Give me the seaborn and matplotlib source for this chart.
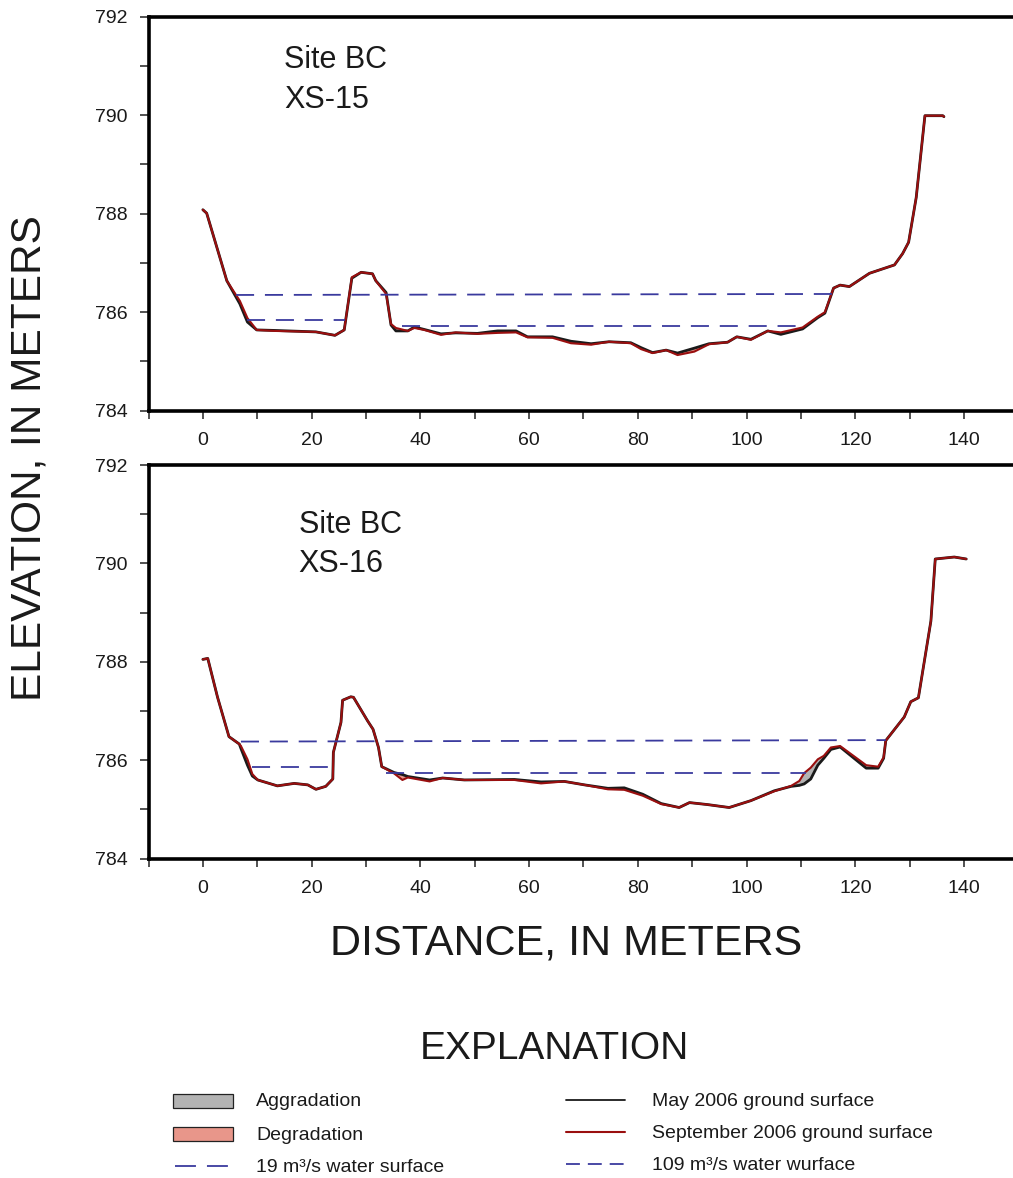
import matplotlib
matplotlib.use("Agg")
import numpy as np
import pandas as pd
import matplotlib.pyplot as plt
from matplotlib.patches import Rectangle
from matplotlib.lines import Line2D
import seaborn as sns

# ---------------- Cross section XS-15 ----------------
dist_15 = [0, 0.7, 4.4, 6.8, 8.2, 9.9, 13.1, 20.8, 24.3, 26.0, 27.4, 29.1, 31.2, 31.8,
           33.7, 34.6, 35.5, 37.7, 38.9, 40.7, 43.8, 46.5, 50.5, 54.2, 57.6, 59.7, 64.3,
           67.7, 71.4, 74.7, 78.7, 80.6, 82.7, 85.2, 87.3, 90.4, 93.1, 96.5, 98.2, 100.8,
           103.9, 106.3, 110.3, 113.1, 114.4, 116.0, 117.2, 118.9, 122.6, 127.2, 128.7,
           129.8, 131.2, 132.8, 136.1, 136.3]
sept_15 = [788.08, 788.01, 786.64, 786.23, 785.88, 785.64, 785.62, 785.60, 785.53, 785.64,
           786.71, 786.81, 786.78, 786.64, 786.37, 785.76, 785.68, 785.62, 785.68, 785.64,
           785.54, 785.59, 785.56, 785.58, 785.59, 785.49, 785.48, 785.37, 785.34, 785.40,
           785.37, 785.25, 785.17, 785.23, 785.13, 785.20, 785.35, 785.39, 785.50, 785.44,
           785.62, 785.59, 785.69, 785.91, 786.00, 786.49, 786.55, 786.52, 786.79, 786.96,
           787.19, 787.42, 788.33, 789.99, 789.99, 789.97]
may_15 = [788.08, 788.01, 786.64, 786.17, 785.80, 785.64, 785.63, 785.60, 785.53, 785.64,
          786.69, 786.81, 786.78, 786.64, 786.40, 785.74, 785.62, 785.62, 785.70, 785.65,
          785.56, 785.58, 785.57, 785.62, 785.62, 785.50, 785.50, 785.41, 785.36, 785.40,
          785.38, 785.28, 785.18, 785.23, 785.17, 785.27, 785.36, 785.39, 785.50, 785.45,
          785.62, 785.55, 785.66, 785.89, 785.98, 786.49, 786.55, 786.52, 786.79, 786.96,
          787.19, 787.42, 788.33, 789.99, 789.99, 789.97]
ws109_15_x = [6.1, 115.8]
ws109_15_z = [786.35, 786.37]
ws19_15_x = [[8.2, 26.1], [36.7, 110.6]]
ws19_15_z = [785.85, 785.72]

# ---------------- Cross section XS-16 ----------------
dist_16 = [0, 0.9, 2.7, 4.8, 6.7, 7.0, 8.2, 9.1, 10.1, 13.7, 16.8, 19.3, 20.8, 22.6, 23.9,
           24.0, 25.4, 25.7, 27.2, 27.7, 30.3, 31.3, 32.3, 32.9, 35.2, 36.7, 37.7, 41.7,
           44.1, 48.1, 57.3, 62.2, 66.5, 70.2, 74.5, 77.5, 80.9, 84.3, 87.6, 89.5, 92.8,
           96.8, 100.8, 105.1, 108.2, 109.7, 110.6, 111.8, 113.1, 114.2, 115.5, 117.2,
           122.0, 124.2, 125.2, 125.6, 129.0, 130.2, 131.6, 133.9, 134.7, 138.2, 140.4]
sept_16 = [788.05, 788.07, 787.28, 786.48, 786.33, 786.29, 786.02, 785.72, 785.60, 785.48,
           785.53, 785.50, 785.41, 785.47, 785.62, 786.16, 786.77, 787.22, 787.29, 787.28,
           786.80, 786.63, 786.26, 785.87, 785.73, 785.60, 785.65, 785.57, 785.64, 785.60,
           785.60, 785.53, 785.57, 785.50, 785.41, 785.40, 785.28, 785.11, 785.04, 785.14,
           785.10, 785.04, 785.18, 785.37, 785.48, 785.58, 785.74, 785.85, 786.02, 786.09,
           786.26, 786.29, 785.90, 785.87, 786.06, 786.40, 786.88, 787.19, 787.27, 788.83,
           790.09, 790.13, 790.09]
may_16 = [788.05, 788.07, 787.28, 786.48, 786.33, 786.24, 785.90, 785.68, 785.60, 785.48,
          785.53, 785.50, 785.41, 785.47, 785.62, 786.16, 786.77, 787.22, 787.29, 787.28,
          786.80, 786.63, 786.26, 785.87, 785.75, 785.71, 785.67, 785.60, 785.64, 785.60,
          785.61, 785.56, 785.57, 785.50, 785.43, 785.44, 785.31, 785.12, 785.04, 785.14,
          785.10, 785.04, 785.18, 785.38, 785.47, 785.49, 785.52, 785.62, 785.90, 786.04,
          786.22, 786.27, 785.84, 785.84, 786.04, 786.40, 786.88, 787.19, 787.27, 788.83,
          790.09, 790.13, 790.09]
ws109_16_x = [7.0, 125.6]
ws109_16_z = [786.38, 786.41]
ws19_16_x = [[9.0, 23.9], [33.7, 110.9]]
ws19_16_z = [785.86, 785.75]

x_ticks = [0, 20, 40, 60, 80, 100, 120, 140]
y_ticks = [784, 786, 788, 790, 792]

C_MAY = "#1a1a1a"
C_SEPT = "#9a0f0f"
C_WATER = "#3a3a9e"
C_AGG = "#b3b3b3"
C_DEG = "#e8968a"

sns.set_theme(style="white")
plt.rcParams["font.family"] = ["Liberation Sans", "DejaVu Sans"]

W, H = 1013, 1178
fig = plt.figure(figsize=(W / 100, H / 100), dpi=100)

sections = [
    dict(dist=dist_15, may=may_15, sept=sept_15, w109x=ws109_15_x, w109z=ws109_15_z,
         w19x=ws19_15_x, w19z=ws19_15_z, name="XS-15", top=16.7, bot=410.7,
         tx=14.9, ty1=790.96, ty2=790.15),
    dict(dist=dist_16, may=may_16, sept=sept_16, w109x=ws109_16_x, w109z=ws109_16_z,
         w19x=ws19_16_x, w19z=ws19_16_z, name="XS-16", top=465.0, bot=858.7,
         tx=17.6, ty1=790.62, ty2=789.83),
]

left_px, right_px = 148.5, 1013.0
for sec in sections:
    ax = fig.add_axes([left_px / W, 1 - sec["bot"] / H,
                       (right_px - left_px) / W, (sec["bot"] - sec["top"]) / H])
    d = np.array(sec["dist"])
    m = np.array(sec["may"])
    s = np.array(sec["sept"])

    ax.fill_between(d, m, s, where=s > m, interpolate=True, color=C_AGG,
                    linewidth=0, zorder=2)
    ax.fill_between(d, m, s, where=s < m, interpolate=True, color=C_DEG,
                    linewidth=0, zorder=2)

    df = pd.DataFrame({"dist": d, "may": m, "sept": s})
    sns.lineplot(data=df, x="dist", y="may", ax=ax, color=C_MAY, lw=2.0,
                 sort=False, estimator=None, zorder=3)
    sns.lineplot(data=df, x="dist", y="sept", ax=ax, color=C_SEPT, lw=1.5,
                 sort=False, estimator=None, zorder=4)

    ax.plot(sec["w109x"], sec["w109z"], color=C_WATER, lw=1.3,
            linestyle=(0, (10, 6)), zorder=5)
    for xs, z in zip(sec["w19x"], sec["w19z"]):
        ax.plot(xs, [z, z], color=C_WATER, lw=1.3, linestyle=(0, (10, 6)), zorder=5)

    ax.text(sec["tx"], sec["ty1"], "Site BC", fontsize=22, ha="left", va="baseline",
            color="#1a1a1a")
    ax.text(sec["tx"], sec["ty2"], sec["name"], fontsize=22, ha="left", va="baseline",
            color="#1a1a1a")

    ax.set_xlim(-10, 149)
    ax.set_ylim(784, 792)
    ax.set_xticks(x_ticks)
    ax.set_xticks(np.arange(-10, 150, 10), minor=True)
    ax.set_yticks(y_ticks)
    ax.set_yticks(np.arange(784, 793, 1), minor=True)
    ax.set_xlabel("")
    ax.set_ylabel("")
    ax.tick_params(axis="x", which="both", direction="out", length=5.5, width=1.1,
                   color="#222222", bottom=True, pad=9.5, labelsize=14,
                   labelcolor="#1a1a1a")
    ax.tick_params(axis="y", which="both", direction="out", length=6.5, width=1.1,
                   color="#222222", left=True, pad=8.5, labelsize=14,
                   labelcolor="#1a1a1a")
    for side in ["left", "top", "bottom"]:
        ax.spines[side].set_visible(True)
        ax.spines[side].set_color("#000000")
        ax.spines[side].set_linewidth(2.6)
    ax.spines["right"].set_visible(False)
    ax.set_facecolor("white")
    ax.grid(False)

fig.text(30 / W, 1 - 458.5 / H, "ELEVATION, IN METERS", rotation=90, fontsize=30.5,
         ha="center", va="center", color="#1a1a1a")
fig.text(566 / W, 1 - 955 / H, "DISTANCE, IN METERS", fontsize=31, ha="center",
         va="baseline", color="#1a1a1a")
fig.text(554 / W, 1 - 1059 / H, "EXPLANATION", fontsize=28, ha="center",
         va="baseline", color="#1a1a1a")

# Explanation panel drawn in pixel units
lg = fig.add_axes([0, 0, 1, 120 / H])
lg.set_xlim(0, W)
lg.set_ylim(H, H - 120)
lg.axis("off")

lg.add_patch(Rectangle((173, 1094), 60, 14, facecolor=C_AGG, edgecolor="#222222", lw=0.9))
lg.add_patch(Rectangle((173, 1127), 60, 14, facecolor=C_DEG, edgecolor="#222222", lw=0.9))
lg.add_line(Line2D([175, 228], [1166, 1166], color=C_WATER, lw=1.3,
                   linestyle=(0, (11.6, 6.1))))
lg.add_line(Line2D([566, 625], [1100, 1100], color=C_MAY, lw=1.3))
lg.add_line(Line2D([566, 625], [1132, 1132], color=C_SEPT, lw=1.5))
lg.add_line(Line2D([566, 624], [1164, 1164], color=C_WATER, lw=1.3,
                   linestyle=(0, (7.7, 4.4))))

items = [(256, 1102, "Aggradation"), (256, 1135, "Degradation"),
         (256, 1168, "19 m³/s water surface"),
         (652, 1102, "May 2006 ground surface"),
         (652, 1133, "September 2006 ground surface"),
         (652, 1166, "109 m³/s water wurface")]
for x, y, t in items:
    lg.text(x, y, t, fontsize=14, ha="left", va="center", color="#1a1a1a")

fig.savefig("out.png", dpi=100, facecolor="white")
